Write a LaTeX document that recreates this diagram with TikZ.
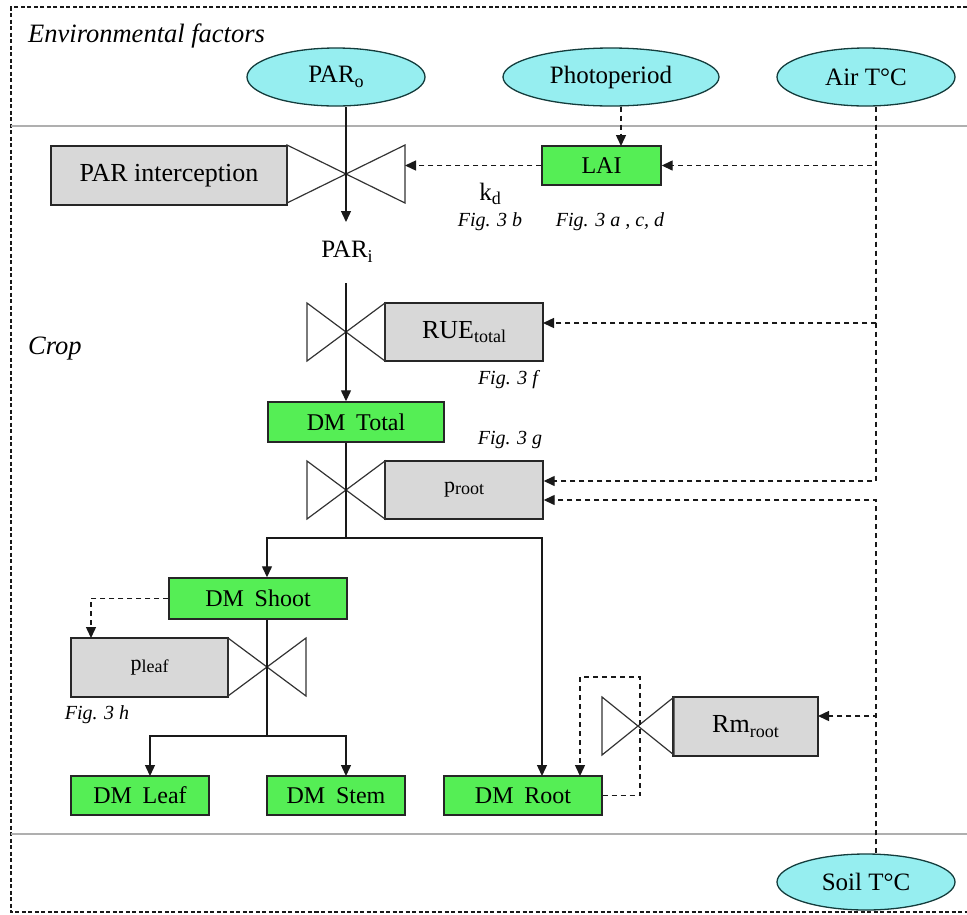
\documentclass[tikz,border=0pt]{standalone}
\usepackage{fontspec}
\setmainfont{Liberation Serif}
\usetikzlibrary{arrows.meta,shapes.geometric}
\definecolor{envcyan}{RGB}{150,238,240}
\definecolor{boxgreen}{RGB}{85,238,85}
\definecolor{boxgray}{RGB}{216,216,216}
\definecolor{sepgray}{RGB}{175,175,175}
\definecolor{envedge}{RGB}{20,60,60}
\newcommand{\sbt}[1]{\raisebox{-0.4ex}{\fontsize{18}{18}\selectfont #1}}
\newcommand{\psbt}[1]{\raisebox{-0.2ex}{\fontsize{18}{18}\selectfont #1}}
\newcommand{\drawvalve}[4]{\draw[valveline] ({#1-#3},{#2-#4}) -- ({#1+#3},{#2+#4}) -- ({#1+#3},{#2-#4}) -- ({#1-#3},{#2+#4}) -- cycle;}
\begin{document}
\begin{tikzpicture}[x=1pt,y=-1pt,
  envnode/.style={ellipse, draw=envedge, line width=1.3pt, fill=envcyan, inner sep=0pt, font=\fontsize{25}{25}\selectfont},
  greenbox/.style={rectangle, draw=black!85, line width=1.4pt, fill=boxgreen, inner sep=0pt, minimum height=40pt, font=\fontsize{24}{24}\selectfont},
  graybox/.style={rectangle, draw=black!85, line width=1.4pt, fill=boxgray, inner sep=0pt, minimum height=59pt, font=\fontsize{26}{26}\selectfont},
  figlabel/.style={font=\fontsize{20}{20}\selectfont\itshape, inner sep=0pt},
  plainlabel/.style={font=\fontsize{25}{25}\selectfont, inner sep=0pt},
  flow/.style={draw=black!90, line width=1.3pt, -{Triangle[length=11pt,width=10pt]}},
  flowplain/.style={draw=black!90, line width=1.3pt},
  info/.style={draw=black!90, line width=1.4pt, dash pattern=on 5pt off 4pt, -{Triangle[length=11pt,width=10pt]}},
  valveline/.style={draw=black!80, line width=1.2pt},
]
\useasboundingbox (0,0) rectangle (967,914);

% frame and separators
\draw[black!90, line width=1.5pt, dash pattern=on 4pt off 2.5pt] (967,7) -- (11,7) -- (11,912) -- (967,912);
\draw[sepgray, line width=2pt] (11,126) -- (967,126);
\draw[sepgray, line width=2pt] (11,834) -- (967,834);

\node[anchor=west, font=\fontsize{26.5}{26.5}\selectfont\itshape, inner sep=0pt] (envlabel) at (28,36) {Environmental factors};
\node[anchor=west, font=\fontsize{26.5}{26.5}\selectfont\itshape, inner sep=0pt] (croplabel) at (28,349) {Crop};

% environmental nodes
\node[envnode, minimum width=178pt, minimum height=58pt] (PARo) at (336,77) {PAR\sbt{o}};
\node[envnode, minimum width=216pt, minimum height=58pt] (Photo) at (611,77) {Photoperiod};
\node[envnode, minimum width=178pt, minimum height=58pt] (Air) at (866,77) {Air T°C};
\node[envnode, minimum width=178pt, minimum height=56pt] (Soil) at (866,882) {Soil T°C};

% boxes
\node[graybox, minimum width=236pt] (PARint) at (169,175.5) {PAR interception};
\node[greenbox, minimum width=119pt, minimum height=39pt] (LAI) at (601.5,165.5) {LAI};
\node[graybox, minimum width=158pt, minimum height=58pt] (RUE) at (464,332) {RUE\sbt{total}};
\node[greenbox, minimum width=176pt] (DMTotal) at (356,422) {DM\hspace{0.45em}Total};
\node[graybox, minimum width=158pt, minimum height=58pt, font=\fontsize{22}{22}\selectfont] (proot) at (464,490) {p\psbt{root}};
\node[greenbox, minimum width=178pt, minimum height=41pt] (DMShoot) at (258,598.5) {DM\hspace{0.45em}Shoot};
\node[graybox, minimum width=157pt, font=\fontsize{22}{22}\selectfont] (pleaf) at (149.5,667.5) {p\psbt{leaf}};
\node[graybox, minimum width=145pt] (Rm) at (745.5,726.5) {Rm\sbt{root}};
\node[greenbox, minimum width=138pt, minimum height=39pt] (DMLeaf) at (140,795.5) {DM\hspace{0.45em}Leaf};
\node[greenbox, minimum width=138pt, minimum height=39pt] (DMStem) at (336,795.5) {DM\hspace{0.45em}Stem};
\node[greenbox, minimum width=158pt, minimum height=39pt] (DMRoot) at (523,795.5) {DM\hspace{0.45em}Root};

% valves
\coordinate (v1) at (346,174);
\coordinate (v2) at (346,332);
\coordinate (v3) at (346,490);
\coordinate (v4) at (267,667);
\coordinate (v5) at (638,726);
\drawvalve{346}{174}{59}{29}
\drawvalve{346}{332}{39}{29}
\drawvalve{346}{490}{39}{29}
\drawvalve{267}{667}{39}{29}
\drawvalve{638}{726}{36}{29}

% labels
\node[plainlabel] (PARi) at (347,252) {PAR\sbt{i}};
\node[plainlabel] (kd) at (490,194) {k\sbt{d}};
\node[figlabel] (fig3b) at (490,222) {Fig. 3 b};
\node[figlabel] (fig3acd) at (610,222) {Fig. 3 a , c, d};
\node[figlabel] (fig3f) at (508,380) {Fig. 3 f};
\node[figlabel] (fig3g) at (510,440) {Fig. 3 g};
\node[figlabel] (fig3h) at (97,715) {Fig. 3 h};

% material flow
\coordinate (PARiTop) at (346,222);
\coordinate (PARiBot) at (346,283);
\coordinate (split1) at (346,538);
\coordinate (rootIn) at (542,776);
\coordinate (split2) at (267,736);
\coordinate (leafIn) at (150,776);
\coordinate (stemIn) at (346,776);
\draw[flow] (PARo.south -| v1) -- (PARiTop);
\draw[flow] (PARiBot) -- (DMTotal.north -| PARiBot);
\draw[flowplain] (DMTotal.south -| split1) -- (split1);
\draw[flow] (split1) -| (v4 |- DMShoot.north);
\draw[flow] (split1) -| (rootIn);
\draw[flowplain] (DMShoot.south -| v4) -- (split2);
\draw[flow] (split2) -| (leafIn);
\draw[flow] (split2) -| (stemIn);

% information flow
\coordinate (ppIn) at (621,146);
\coordinate (airbend) at (876,481);
\coordinate (rueIn) at (543,323);
\coordinate (v1R) at (405,165.5);
\coordinate (soilbend) at (876,500);
\coordinate (rmIn) at (818,716);
\coordinate (pleafIn) at (91,638);
\coordinate (loopA) at (640,677);
\coordinate (rootIn2) at (580,776);
\draw[info] (Photo.south -| ppIn) -- (ppIn);
\draw[info] (Air.south -| airbend) |- (LAI.east);
\draw[info] (Air.south -| airbend) |- (rueIn);
\draw[info] (Air.south -| airbend) -- (airbend) -- (proot.east |- airbend);
\draw[info] (LAI.west) -- (v1R);
\draw[info] (Soil.north -| soilbend) -- (soilbend) -- (proot.east |- soilbend);
\draw[info] (Soil.north -| soilbend) |- (rmIn);
\draw[info] (DMShoot.west) -| (pleafIn);
\draw[info] (DMRoot.east) -| (loopA) -| (rootIn2);
\end{tikzpicture}
\end{document}
